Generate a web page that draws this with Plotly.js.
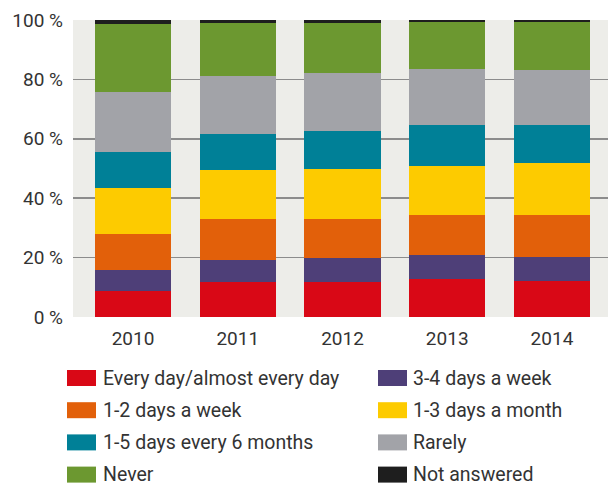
<!DOCTYPE html>
<html>
<head>
<meta charset="utf-8">
<script src="https://cdn.plot.ly/plotly-3.0.1.min.js"></script>
<style>html,body{margin:0;padding:0;background:#fff;}#chart{width:608px;height:485px;}</style>
</head>
<body>
<div id="chart"></div>
<script>
// ---- data ----
const years = ['2010', '2011', '2012', '2013', '2014'];
const seriesNames = [
  'Every day/almost every day', '3-4 days a week',
  '1-2 days a week', '1-3 days a month',
  '1-5 days every 6 months', 'Rarely',
  'Never', 'Not answered'
];
const everyDay     = [8.8, 11.8, 11.9, 12.8, 12.1];
const days34Week   = [7.0, 7.5, 8.1, 8.0, 8.1];
const days12Week   = [12.2, 13.7, 13.1, 13.6, 14.1];
const days13Month  = [15.3, 16.6, 16.8, 16.6, 17.4];
const days15Months = [12.3, 12.1, 12.6, 13.6, 12.9];
const rarely       = [20.2, 19.4, 19.8, 18.9, 18.6];
const never        = [23.0, 18.0, 16.8, 15.8, 16.1];
const notAnswered  = [1.2, 0.9, 0.9, 0.7, 0.7];
const yTicks = [0, 20, 40, 60, 80, 100];
const yTickLabels = ['0 %', '20 %', '40 %', '60 %', '80 %', '100 %'];

// ---- styles ----
const seriesValues = [everyDay, days34Week, days12Week, days13Month, days15Months, rarely, never, notAnswered];
const colors = ['#D90816', '#4E3F78', '#E2600A', '#FDCB00', '#008097', '#A2A3A8', '#6C9830', '#1E1E1E'];
const textColor = '#333333';
const fontFamily = 'Roboto, "Open Sans", sans-serif';

const M = {l: 73, r: 0, t: 20, b: 168};
const W = 608, H = 485;
const plotW = W - M.l - M.r, plotH = H - M.t - M.b;
const px2x = px => (px - M.l) / plotW;
const px2y = py => (H - M.b - py) / plotH;

const traces = seriesNames.map((name, i) => ({
  type: 'bar',
  name: name,
  x: years,
  y: seriesValues[i],
  marker: {color: colors[i], line: {width: 0}},
  hoverinfo: 'name+y'
}));

// legend built from series names/colours (2 columns, row-wise)
const shapes = [], annotations = [];
const colSwatchX = [67, 378], colTextX = [101, 411];
const rowY0 = 378, rowStep = 32.2, swW = 29, swH = 16;
seriesNames.forEach((name, i) => {
  const col = i % 2, row = Math.floor(i / 2);
  const cy = rowY0 + row * rowStep;
  shapes.push({
    type: 'rect', xref: 'paper', yref: 'paper', layer: 'above',
    x0: px2x(colSwatchX[col]), x1: px2x(colSwatchX[col] + swW),
    y0: px2y(cy + swH / 2), y1: px2y(cy - swH / 2),
    fillcolor: colors[i], line: {width: 0}
  });
  annotations.push({
    xref: 'paper', yref: 'paper', showarrow: false,
    x: px2x(colTextX[col]), y: px2y(cy),
    xanchor: 'left', yanchor: 'middle',
    text: name, font: {family: fontFamily, size: 19.5, color: textColor}
  });
});

const layout = {
  width: W, height: H,
  margin: {l: M.l, r: M.r, t: M.t, b: M.b, pad: 0},
  paper_bgcolor: '#ffffff',
  plot_bgcolor: '#EDEDE9',
  barmode: 'stack',
  bargap: 0.274,
  showlegend: false,
  font: {family: fontFamily, size: 19, color: textColor},
  xaxis: {
    type: 'category',
    range: [-0.573, 4.535],
    showgrid: false, zeroline: false, showline: false,
    ticks: '',
    ticklabelstandoff: 8,
    tickfont: {family: fontFamily, size: 19, color: textColor}
  },
  yaxis: {
    range: [0, 100],
    tickmode: 'array',
    tickvals: yTicks,
    ticktext: yTickLabels,
    showgrid: true, gridcolor: '#8c8c8c', gridwidth: 1.5,
    zeroline: false, showline: false,
    ticks: '',
    ticklabelstandoff: 9,
    tickfont: {family: fontFamily, size: 19, color: textColor}
  },
  shapes: shapes,
  annotations: annotations
};

Plotly.newPlot('chart', traces, layout, {displayModeBar: false, staticPlot: true});
</script>
</body>
</html>
